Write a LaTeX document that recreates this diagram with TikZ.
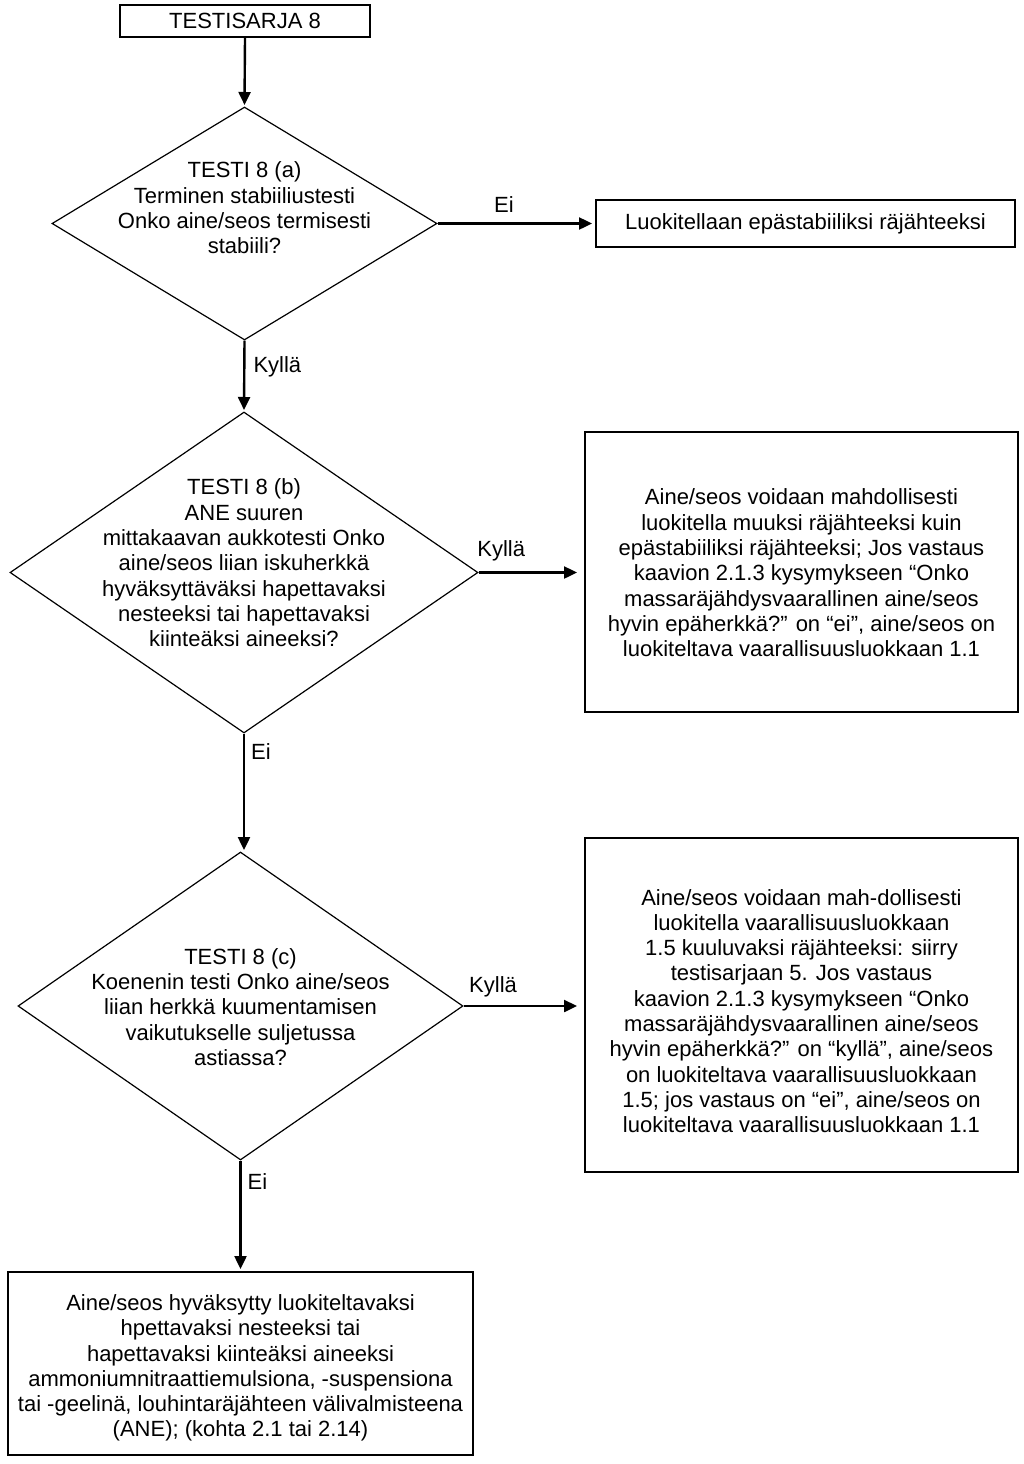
\documentclass[tikz,border=0pt]{standalone}
\usepackage{fontspec}
\setmainfont{Liberation Sans}
\usetikzlibrary{arrows.meta,shapes.geometric}
\begin{document}
\begin{tikzpicture}[x=1pt,y=-1pt,
  txt/.style={align=center,font=\fontsize{22}{25.3}\selectfont,inner sep=0pt},
  box/.style={draw,line width=1.8pt,inner sep=0pt},
  dia/.style={draw,diamond,line width=1.2pt,inner sep=0pt},
  arr/.style={line width=2.4pt,-{Triangle[length=13pt,width=12pt]}},
  lab/.style={font=\fontsize{22}{24}\selectfont,inner sep=0pt}]
\useasboundingbox (0,0) rectangle (1023,1464);
% boxes
\node[box,minimum width=250pt,minimum height=32pt] (start) at (245,21) {};
\node[txt] at (start) {TESTISARJA 8};
\node[box,minimum width=419pt,minimum height=47pt] (unst) at (805.5,223.5) {};
\node[txt] at (unst) {Luokitellaan epästabiiliksi räjähteeksi};
\node[box,minimum width=433pt,minimum height=280pt] (b2) at (801.5,572) {};
\node[txt] at (801.5,573) {Aine/seos voidaan mahdollisesti\\luokitella muuksi räjähteeksi kuin\\epästabiiliksi räjähteeksi; Jos vastaus\\kaavion 2.1.3 kysymykseen “Onko\\massaräjähdysvaarallinen aine/seos\\hyvin epäherkkä?” on “ei”, aine/seos on\\luokiteltava vaarallisuusluokkaan 1.1};
\node[box,minimum width=433pt,minimum height=334pt] (b3) at (801.5,1005) {};
\node[txt] at (801.5,1011) {Aine/seos voidaan mah-dollisesti\\luokitella vaarallisuusluokkaan\\1.5 kuuluvaksi räjähteeksi: siirry\\testisarjaan 5. Jos vastaus\\kaavion 2.1.3 kysymykseen “Onko\\massaräjähdysvaarallinen aine/seos\\hyvin epäherkkä?” on “kyllä”, aine/seos\\on luokiteltava vaarallisuusluokkaan\\1.5; jos vastaus on “ei”, aine/seos on\\luokiteltava vaarallisuusluokkaan 1.1};
\node[box,minimum width=465pt,minimum height=183pt] (b4) at (240.5,1363.5) {};
\node[txt] at (240.5,1368) {Aine/seos hyväksytty luokiteltavaksi\\hpettavaksi nesteeksi tai\\hapettavaksi kiinteäksi aineeksi\\ammoniumnitraattiemulsiona, -suspensiona\\tai -geelinä, louhintaräjähteen välivalmisteena\\(ANE); (kohta 2.1 tai 2.14)};
% diamonds
\node[dia,minimum width=385pt,minimum height=233pt] (d1) at (244.5,223.5) {};
\node[txt] at (244.5,208) {TESTI 8 (a)\\Terminen stabiiliustesti\\Onko aine/seos termisesti\\stabiili?};
\node[dia,minimum width=468pt,minimum height=321pt] (d2) at (244,572.5) {};
\node[txt] at (244,563) {TESTI 8 (b)\\ANE suuren\\mittakaavan aukkotesti Onko\\aine/seos liian iskuherkkä\\hyväksyttäväksi hapettavaksi\\nesteeksi tai hapettavaksi\\kiinteäksi aineeksi?};
\node[dia,minimum width=445pt,minimum height=308pt] (d3) at (240.5,1006) {};
\node[txt] at (240.5,1007) {TESTI 8 (c)\\Koenenin testi Onko aine/seos\\liian herkkä kuumentamisen\\vaikutukselle suljetussa\\astiassa?};
% arrows
\coordinate (t1) at (244.5,105);
\draw[arr] (start.south) -- (t1);
\coordinate (e1) at (592,223.5);
\draw[arr] (d1.east) -- (e1) node[lab,pos=0.43,above=10pt] {Ei};
\coordinate (t2) at (244,410);
\draw[arr] (d1.south) -- (t2) node[lab,pos=0.38,right=8pt] {Kyllä};
\coordinate (e2) at (577,572.5);
\draw[arr] (d2.east) -- (e2) node[lab,pos=0.23,above=10pt] {Kyllä};
\coordinate (t3) at (244,850);
\draw[arr] (d2.south) -- (t3) node[lab,pos=0.15,right=6pt] {Ei};
\coordinate (e3) at (577,1006);
\draw[arr] (d3.east) -- (e3) node[lab,pos=0.26,above=8pt] {Kyllä};
\coordinate (t4) at (240.5,1269);
\draw[arr] (d3.south) -- (t4) node[lab,pos=0.19,right=6pt] {Ei};
\end{tikzpicture}
\end{document}
